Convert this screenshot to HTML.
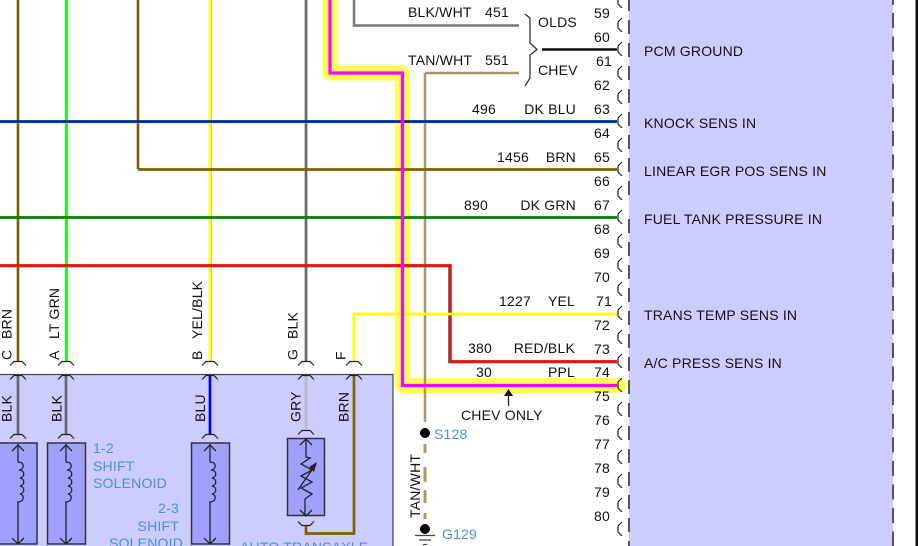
<!DOCTYPE html>
<html><head><meta charset="utf-8"><style>
html,body{margin:0;padding:0;background:#fff;overflow:hidden}
svg{display:block}
text{font-family:"Liberation Sans",sans-serif;font-size:14px;fill:#111;letter-spacing:.2px}
.b{fill:#4f8fcf}
.e{text-anchor:end}
.w{fill:none;stroke-width:2.7}
.c{fill:none;stroke:#222;stroke-width:1.2}
.i{fill:none;stroke:#222;stroke-width:1.3}
</style></head><body>
<svg width="918" height="546" viewBox="0 0 918 546" xmlns="http://www.w3.org/2000/svg">
<defs>
<g id="pin"><path class="c" d="M622 -7L618 -3V3L622 7" stroke-width="1.4"/></g>
<g id="up"><path class="c" d="M-8 4.5L-4 0.5H4L8 4.5"/></g>
<g id="dn"><path class="c" d="M-8 -4.5L-4 -0.5H4L8 -4.5"/></g>
<g id="coil">
<path class="i" d="M0 1V19C6 19 7 25 2 27C7 28 7 34 2 35C7 36 7 42 2 43C7 44 7 50 2 51C7 52 6 59 0 59V101"/>
<path class="i" d="M-6 8L0 2L6 8M-6 95L0 101L6 95"/>
</g>
</defs>

<!-- PCM -->
<rect x="629" y="0" width="264" height="546" fill="#ccccff"/>
<path d="M629 -3V203M629 219V546" stroke="#555" stroke-width="2" stroke-dasharray="14 9" fill="none"/>
<path d="M893 13V546" stroke="#555" stroke-width="2" stroke-dasharray="15 8.57" fill="none"/>
<path d="M893 0V5" stroke="#555" stroke-width="2" fill="none"/>
<rect x="915.500" y="0" width="2.500" height="546" fill="#111"/>

<!-- Transaxle box -->
<rect x="-2" y="374.5" width="395" height="180" fill="#ccccff" stroke="#444" stroke-width="1.2"/>
<rect x="-10" y="443" width="47" height="101" fill="#a0a0ff" stroke="#333" stroke-width="1.5"/>
<rect x="47.500" y="443" width="38" height="101" fill="#a0a0ff" stroke="#333" stroke-width="1.5"/>
<rect x="191.500" y="443" width="38" height="101" fill="#a0a0ff" stroke="#333" stroke-width="1.500"/>
<rect x="287.500" y="438.500" width="37" height="77" fill="#a0a0ff" stroke="#333" stroke-width="1.500"/>
<use href="#coil" x="18" y="443"/>
<use href="#coil" x="66" y="443"/>
<use href="#coil" x="210" y="443"/>
<path class="i" d="M306 439V457L310 458L301 464L312 470L301 476L312 482L301 488L312 494L305 499V516"/>
<path class="i" d="M300 445L306 439L312 445M300 510L306 516L312 510"/>
<path class="i" d="M298 490L316 464"/><path d="M317 462L309 467L314 472Z" fill="#222"/>

<!-- Highlight -->
<path d="M330 -5V73H402.500V385.500H617" fill="none" stroke="#ffff55" stroke-width="15" stroke-linejoin="round"/>
<circle cx="619" cy="385.500" r="7.500" fill="#ffff55"/>

<!-- Vertical wires -->
<path class="w" d="M18 0V361" stroke="#806000"/>
<path class="w" d="M66.500 0V361" stroke="#00ff00"/>
<path class="w" d="M138 0V169" stroke="#806000"/>
<path d="M211.500 0V361" stroke="#bbb" stroke-width="1" fill="none"/>
<path class="w" d="M210 0V361" stroke="#ffff00"/>
<path class="w" d="M306 0V361" stroke="#666"/>
<path d="M425 73V422" stroke="#a89668" stroke-width="2.500" fill="none"/>
<path d="M519 73H425" stroke="#a89668" stroke-width="2.500" fill="none"/>
<path d="M354 0V25.500H519" stroke="#777" stroke-width="2.500" fill="none"/>

<!-- Horizontal wires -->
<path d="M0 122.800H617" stroke="#b0c0e8" stroke-width="1.200" fill="none"/>
<path class="w" d="M0 121.500H617" stroke="#002b8a"/>
<path class="w" d="M138 169.500H617" stroke="#806000"/>
<path class="w" d="M0 217.500H617" stroke="#008000"/>
<path d="M0 266.500H449V362.500H617" stroke="#666" stroke-width="1.800" fill="none"/>
<path d="M0 265.300H450.500V361.300H617" fill="none" stroke="#ff0000" stroke-width="2.400"/>
<path class="w" d="M354 361V314H617" stroke="#ffff00"/>
<path d="M542 49.500H617" stroke="#111" stroke-width="2.500" fill="none"/>

<!-- Magenta -->
<path d="M330 -5V73H402.500V385.500H617" fill="none" stroke="#ff00ff" stroke-width="3.200"/>

<!-- Lower wires -->
<path class="w" d="M18 375V434" stroke="#666"/>
<path class="w" d="M66 375V434" stroke="#666"/>
<path class="w" d="M210 375V434" stroke="#0000ff"/>
<path class="w" d="M306 375V430" stroke="#bbbbbb"/>
<path class="w" d="M354 375V533.500H306V526" stroke="#806000"/>

<!-- Tan dashed + splice -->
<path d="M425 444V453M425 467V482M425 490V503M425 513V519" stroke="#b09a60" stroke-width="3" fill="none"/>
<circle cx="425" cy="433" r="5" fill="#000"/>
<circle cx="425" cy="529" r="5" fill="#000"/>
<path d="M415 535.500H435M419 540H431M423 544.500H427" stroke="#444" stroke-width="1.300" fill="none"/>

<!-- Brace -->
<path d="M525 14L530 18V43L537 49.500L530 55V78L525 86" fill="none" stroke="#222" stroke-width="1.200"/>

<!-- Arrow -->
<path d="M508.500 406V394" stroke="#222" stroke-width="1.300"/>
<path d="M508.500 389L504 396H513Z" fill="#111"/>

<!-- PCM pin brackets -->
<use href="#pin" y="1"/><use href="#pin" y="25"/><use href="#pin" y="49"/><use href="#pin" y="73"/><use href="#pin" y="97"/><use href="#pin" y="121"/><use href="#pin" y="145"/><use href="#pin" y="169"/><use href="#pin" y="193"/><use href="#pin" y="217"/><use href="#pin" y="241"/><use href="#pin" y="265"/><use href="#pin" y="289"/><use href="#pin" y="313"/><use href="#pin" y="337"/><use href="#pin" y="361"/><use href="#pin" y="385"/><use href="#pin" y="409"/><use href="#pin" y="433"/><use href="#pin" y="457"/><use href="#pin" y="481"/><use href="#pin" y="505"/><use href="#pin" y="529"/>

<!-- Top connectors -->
<use href="#up" x="18" y="361"/><use href="#up" x="66" y="361"/><use href="#up" x="210" y="361"/><use href="#up" x="306" y="361"/><use href="#up" x="354" y="361"/>
<use href="#up" x="18" y="375"/><use href="#up" x="66" y="375"/><use href="#up" x="210" y="375"/><use href="#up" x="306" y="375"/><use href="#up" x="354" y="375"/>
<use href="#up" x="18" y="434"/><use href="#up" x="66" y="434"/><use href="#up" x="210" y="434"/><use href="#up" x="306" y="430"/>
<use href="#dn" x="306" y="526"/>

<!-- Pin numbers -->
<text x="594" y="18">59</text><text x="594" y="42">60</text><text x="596" y="66">61</text><text x="594" y="90">62</text><text x="594" y="114">63</text><text x="594" y="138">64</text><text x="594" y="162">65</text><text x="594" y="186">66</text><text x="594" y="210">67</text><text x="594" y="234">68</text><text x="594" y="258">69</text><text x="594" y="282">70</text><text x="596" y="306">71</text><text x="594" y="330">72</text><text x="594" y="354">73</text><text x="594" y="377">74</text><text x="594" y="401">75</text><text x="594" y="425">76</text><text x="594" y="449">77</text><text x="594" y="473">78</text><text x="594" y="497">79</text><text x="594" y="521">80</text>

<!-- Wire labels -->
<text x="408" y="17">BLK/WHT</text><text x="485" y="17">451</text>
<text x="408" y="65">TAN/WHT</text><text x="485" y="65">551</text>
<text x="538" y="27">OLDS</text><text x="538" y="75">CHEV</text>
<text x="472" y="114">496</text><text class="e" x="576" y="114">DK BLU</text>
<text x="497" y="162">1456</text><text class="e" x="576" y="162">BRN</text>
<text x="464" y="210">890</text><text class="e" x="576" y="210">DK GRN</text>
<text x="499" y="306">1227</text><text class="e" x="575" y="306">YEL</text>
<text x="468" y="353">380</text><text class="e" x="575" y="353">RED/BLK</text>
<text x="476" y="377">30</text><text class="e" x="575" y="377">PPL</text>
<text x="461" y="420">CHEV ONLY</text>

<!-- PCM labels -->
<text x="644" y="56">PCM GROUND</text>
<text x="644" y="128">KNOCK SENS IN</text>
<text x="644" y="176">LINEAR EGR POS SENS IN</text>
<text x="644" y="224">FUEL TANK PRESSURE IN</text>
<text x="644" y="320">TRANS TEMP SENS IN</text>
<text x="644" y="368">A/C PRESS SENS IN</text>

<!-- Blue labels -->
<text class="b" x="93" y="453">1-2</text><text class="b" x="93" y="471">SHIFT</text><text class="b" x="93" y="488">SOLENOID</text>
<text class="b e" x="179" y="513">2-3</text><text class="b e" x="179" y="531">SHIFT</text><text class="b e" x="183" y="548">SOLENOID</text>
<text class="b" x="240" y="552">AUTO TRANSAXLE</text>
<text class="b" x="434" y="439">S128</text><text class="b" x="442" y="539">G129</text>

<!-- Vertical labels -->
<text transform="translate(11.500,360) rotate(-90)">C</text>
<text transform="translate(11.500,339) rotate(-90)">BRN</text>
<text transform="translate(59,360) rotate(-90)">A</text>
<text transform="translate(59,339) rotate(-90)">LT GRN</text>
<text transform="translate(202,360) rotate(-90)">B</text>
<text transform="translate(202,339) rotate(-90)">YEL/BLK</text>
<text transform="translate(297.500,360) rotate(-90)">G</text>
<text transform="translate(297.500,339) rotate(-90)">BLK</text>
<text transform="translate(345.500,360) rotate(-90)">F</text>
<text transform="translate(11.500,422) rotate(-90)">BLK</text>
<text transform="translate(61.500,422) rotate(-90)">BLK</text>
<text transform="translate(205,422) rotate(-90)">BLU</text>
<text transform="translate(300.500,422) rotate(-90)">GRY</text>
<text transform="translate(348.500,422) rotate(-90)">BRN</text>
<text transform="translate(420,518) rotate(-90)">TAN/WHT</text>
</svg>
</body></html>
